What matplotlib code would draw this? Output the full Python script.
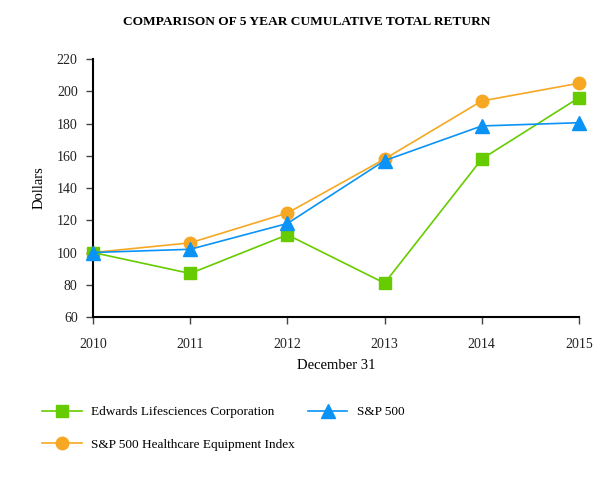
import matplotlib
matplotlib.use("Agg")
import matplotlib.pyplot as plt

# ── Data ──────────────────────────────────────────────────────────────────
years = [2010, 2011, 2012, 2013, 2014, 2015]
edwards = [100, 87, 111, 81, 158, 196]
sp500 = [100, 102, 118, 157, 178.5, 180.5]
healthcare = [100, 106, 124.5, 158, 194, 205]

y_ticks = [60, 80, 100, 120, 140, 160, 180, 200, 220]

GREEN = "#66cc00"
BLUE = "#0a93f5"
ORANGE = "#f7a823"

plt.rcParams["font.family"] = ["Liberation Serif", "DejaVu Serif"]

fig = plt.figure(figsize=(6.13, 4.8), dpi=100)
ax = fig.add_axes([0.1517, 0.3396, 0.7928, 0.5374])

l_ed, = ax.plot(years, edwards, color=GREEN, lw=1.2, marker="s", ms=8.5,
                mec=GREEN, mfc=GREEN, clip_on=False, zorder=3,
                label="Edwards Lifesciences Corporation")
l_sp, = ax.plot(years, sp500, color=BLUE, lw=1.2, marker="^", ms=9.5,
                mec=BLUE, mfc=BLUE, clip_on=False, zorder=4,
                label="S&P 500")
l_hc, = ax.plot(years, healthcare, color=ORANGE, lw=1.2, marker="o", ms=9,
                mec=ORANGE, mfc=ORANGE, clip_on=False, zorder=2,
                label="S&P 500 Healthcare Equipment Index")

ax.set_xlim(years[0], years[-1])
ax.set_ylim(y_ticks[0], y_ticks[-1])
ax.set_xticks(years)
ax.set_yticks(y_ticks)
ax.tick_params(labelsize=10, length=5, width=1, color="#444444",
               labelcolor="#222222")
ax.tick_params(axis="x", pad=10)
ax.tick_params(axis="y", pad=6)
for side in ("top", "right"):
    ax.spines[side].set_visible(False)
for side in ("left", "bottom"):
    ax.spines[side].set_linewidth(1.5)

ax.set_ylabel("Dollars", fontsize=10.5, labelpad=8)
ax.set_xlabel("December 31", fontsize=10.5, labelpad=6)

fig.text(0.5, 0.954, "COMPARISON OF 5 YEAR CUMULATIVE TOTAL RETURN",
         ha="center", va="center", fontsize=9.6, fontweight="bold")

fig.legend(handles=[l_ed, l_hc, l_sp], loc="upper left",
           bbox_to_anchor=(0.06, 0.165), ncol=2, frameon=False,
           fontsize=9.5, handlelength=3.0, handletextpad=0.7,
           columnspacing=1.0, labelspacing=1.55, borderaxespad=0)

fig.savefig("out.png", dpi=100)
